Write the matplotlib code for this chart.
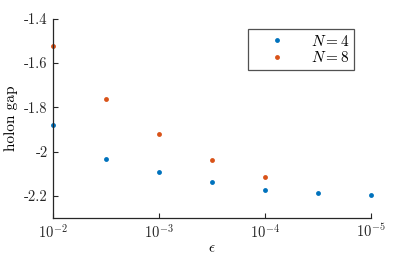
import matplotlib
matplotlib.use('Agg')
import matplotlib.pyplot as plt
import numpy as np
from matplotlib.ticker import FixedLocator, FixedFormatter, NullLocator

plt.rcParams['font.family'] = 'serif'
plt.rcParams['font.serif'] = ['cmr10']
plt.rcParams['mathtext.fontset'] = 'cm'
plt.rcParams['axes.unicode_minus'] = False
plt.rcParams['axes.formatter.use_mathtext'] = True

# data
eps4 = [1e-2, 10**-2.5, 1e-3, 10**-3.5, 1e-4, 10**-4.5, 1e-5]
gap4 = [-1.88, -2.033, -2.094, -2.136, -2.172, -2.186, -2.196]
eps8 = [1e-2, 10**-2.5, 1e-3, 10**-3.5, 1e-4]
gap8 = [-1.522, -1.764, -1.922, -2.036, -2.113]

yticks = [-2.2, -2.0, -1.8, -1.6, -1.4]
ylabels = ['-2.2', '-2', '-1.8', '-1.6', '-1.4']
xticks = [1e-2, 1e-3, 1e-4, 1e-5]
xlabels = [r'$10^{-2}$', r'$10^{-3}$', r'$10^{-4}$', r'$10^{-5}$']

fig = plt.figure(figsize=(4.11, 2.57), dpi=100)
ax = fig.add_axes([0.128, 0.152, 0.775, 0.775])

ax.plot(eps4, gap4, 'o', color='#0072BD', markersize=3.5, markeredgewidth=0,
        label='$N=4$', clip_on=False)
ax.plot(eps8, gap8, 'o', color='#D95319', markersize=3.5, markeredgewidth=0,
        label='$N=8$', clip_on=False)

ax.set_xscale('log')
ax.set_xlim(1e-2, 1e-5)
ax.set_ylim(-2.3, -1.4)
ax.xaxis.set_major_locator(FixedLocator(xticks))
ax.xaxis.set_major_formatter(FixedFormatter(xlabels))
ax.xaxis.set_minor_locator(NullLocator())
ax.yaxis.set_major_locator(FixedLocator(yticks))
ax.yaxis.set_major_formatter(FixedFormatter(ylabels))

for s in ['top', 'right']:
    ax.spines[s].set_visible(False)
for s in ['left', 'bottom']:
    ax.spines[s].set_color('#262626')
    ax.spines[s].set_linewidth(0.9)
ax.tick_params(direction='in', length=3.5, width=0.8, colors='#262626',
               labelsize=10.5, labelcolor='#262626')

ax.set_xlabel(r'$\epsilon$', fontsize=11, labelpad=1)
ax.set_ylabel('holon gap', fontsize=11, labelpad=4)

leg = ax.legend(loc='upper right', bbox_to_anchor=(0.947, 0.948), fontsize=11,
                frameon=True, fancybox=False, handletextpad=0.6,
                borderpad=0.3, labelspacing=0.1, handlelength=3.2,
                borderaxespad=0)
leg.get_frame().set_edgecolor('#262626')
leg.get_frame().set_linewidth(0.9)

fig.savefig('out.png', dpi=100)
